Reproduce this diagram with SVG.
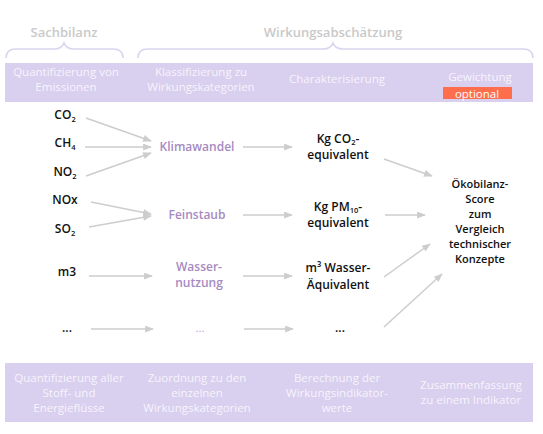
<svg xmlns="http://www.w3.org/2000/svg" width="543" height="434" viewBox="0 0 543 434">
<style>
.band{fill:#D9CFEF}
.bt{font-family:"Open Sans","Noto Sans",sans-serif;font-size:11.5px;fill:#F7F4FC;text-anchor:middle}
.hd{font-family:"Open Sans","Noto Sans",sans-serif;font-size:13px;font-weight:600;fill:#C9C9C9;text-anchor:middle}
.brace{fill:none;stroke:#DCD3F0;stroke-width:1.6}
.lb{font-family:"Open Sans","Noto Sans",sans-serif;font-size:12px;font-weight:600;fill:#111;text-anchor:middle}
.sc{font-size:11px}
.pu{font-family:"Open Sans","Noto Sans",sans-serif;font-size:12px;font-weight:600;fill:#A68AC2;text-anchor:middle}
.pl{font-family:"Open Sans","Noto Sans",sans-serif;font-size:11.5px;fill:#B9A4D2;text-anchor:middle}
.sub{font-size:7.5px}
.ar{fill:none;stroke:#CDCDCD;stroke-width:1.5;marker-end:url(#ah)}
</style>
<defs>
<marker id="ah" viewBox="0 0 10 8" refX="9" refY="4" markerWidth="9" markerHeight="7" markerUnits="userSpaceOnUse" orient="auto">
<path d="M0,0 L10,4 L0,8 z" fill="#CDCDCD"/>
</marker>
</defs>
<rect width="543" height="434" fill="#FFFFFF"/>

<g id="headers">
<text class="hd" x="64" y="37">Sachbilanz</text>
<path class="brace" d="M6,58 Q6,49 16,49 L54,49 Q62,49 64,43 Q66,49 74,49 L113,49 Q123,49 123,58"/>
<text class="hd" x="333" y="37">Wirkungsabschätzung</text>
<path class="brace" d="M138,58 Q138,49 148,49 L323,49 Q331,49 333,43 Q335,49 343,49 L523,49 Q533,49 533,58"/>
</g>

<g id="top-band">
<rect class="band" x="5" y="63" width="528" height="39"/>
<text class="bt" x="66" y="76">Quantifizierung von</text>
<text class="bt" x="66" y="91">Emissionen</text>
<text class="bt" x="201" y="76">Klassifizierung zu</text>
<text class="bt" x="201" y="91">Wirkungskategorien</text>
<text class="bt" x="337" y="83">Charakterisierung</text>
<text class="bt" x="480" y="81">Gewichtung</text>
<rect x="443" y="87" width="69" height="12" fill="#FF6E4C"/>
<text class="bt" x="477" y="97.5" style="fill:#FFFFFF">optional</text>
</g>

<g id="connectors">
<line class="ar" x1="86" y1="118" x2="151" y2="141"/>
<line class="ar" x1="85" y1="147" x2="151" y2="147"/>
<line class="ar" x1="86" y1="176" x2="151" y2="153"/>
<line class="ar" x1="91" y1="202" x2="151" y2="214"/>
<line class="ar" x1="89" y1="227" x2="151" y2="216"/>
<line class="ar" x1="89" y1="276" x2="152" y2="276"/>
<line class="ar" x1="91" y1="329" x2="153" y2="329"/>
<line class="ar" x1="243" y1="147" x2="292" y2="147"/>
<line class="ar" x1="243" y1="215" x2="292" y2="215"/>
<line class="ar" x1="243" y1="276" x2="292" y2="276"/>
<line class="ar" x1="244" y1="329" x2="293" y2="329"/>
<line class="ar" x1="384" y1="159" x2="432" y2="176"/>
<line class="ar" x1="385" y1="215" x2="425" y2="215"/>
<line class="ar" x1="384" y1="277" x2="430" y2="244"/>
<line class="ar" x1="384" y1="327" x2="442" y2="274"/>
</g>

<g id="emissions">
<text class="lb" x="65" y="119">CO<tspan class="sub" dy="3">2</tspan></text>
<text class="lb" x="65" y="147">CH<tspan class="sub" dy="3">4</tspan></text>
<text class="lb" x="65" y="176">NO<tspan class="sub" dy="3">2</tspan></text>
<text class="lb" x="65" y="204">NOx</text>
<text class="lb" x="65" y="233">SO<tspan class="sub" dy="3">2</tspan></text>
<text class="lb" x="67" y="276">m3</text>
<text class="lb" x="67" y="332">...</text>
</g>

<g id="klimawandel"><text class="pu" x="197" y="151">Klimawandel</text></g>
<g id="feinstaub"><text class="pu" x="197" y="219">Feinstaub</text></g>
<g id="wassernutzung">
<text class="pu" x="199" y="271">Wasser-</text>
<text class="pu" x="199" y="287">nutzung</text>
</g>
<g id="kategorie-more"><text class="pl" x="200" y="332">...</text></g>

<g id="kg-co2">
<text class="lb" x="338" y="143">Kg CO<tspan class="sub" dy="2">2</tspan><tspan dy="-2">-</tspan></text>
<text class="lb" x="338" y="159">equivalent</text>
</g>
<g id="kg-pm10">
<text class="lb" x="338" y="211">Kg PM<tspan class="sub" dy="2">10</tspan><tspan dy="-2">-</tspan></text>
<text class="lb" x="338" y="227">equivalent</text>
</g>
<g id="m3-wasser">
<text class="lb" x="338" y="272">m³ Wasser-</text>
<text class="lb" x="338" y="288.5">Äquivalent</text>
</g>
<g id="indikator-more"><text class="lb" x="340" y="332">...</text></g>

<g id="oekobilanz-score">
<text class="lb sc" x="480" y="188">Ökobilanz-</text>
<text class="lb sc" x="480" y="203">Score</text>
<text class="lb sc" x="480" y="218">zum</text>
<text class="lb sc" x="480" y="233">Vergleich</text>
<text class="lb sc" x="480" y="248">technischer</text>
<text class="lb sc" x="480" y="263">Konzepte</text>
</g>

<g id="bottom-band">
<rect class="band" x="5" y="363" width="528" height="59"/>
<text class="bt" x="69" y="382">Quantifizierung aller</text>
<text class="bt" x="69" y="397">Stoff- und</text>
<text class="bt" x="69" y="412">Energieflüsse</text>
<text class="bt" x="197" y="382">Zuordnung zu den</text>
<text class="bt" x="197" y="397">einzelnen</text>
<text class="bt" x="197" y="412">Wirkungskategorien</text>
<text class="bt" x="337" y="382">Berechnung der</text>
<text class="bt" x="337" y="397">Wirkungsindikator-</text>
<text class="bt" x="337" y="412">werte</text>
<text class="bt" x="471" y="389">Zusammenfassung</text>
<text class="bt" x="471" y="404">zu einem Indikator</text>
</g>
</svg>
